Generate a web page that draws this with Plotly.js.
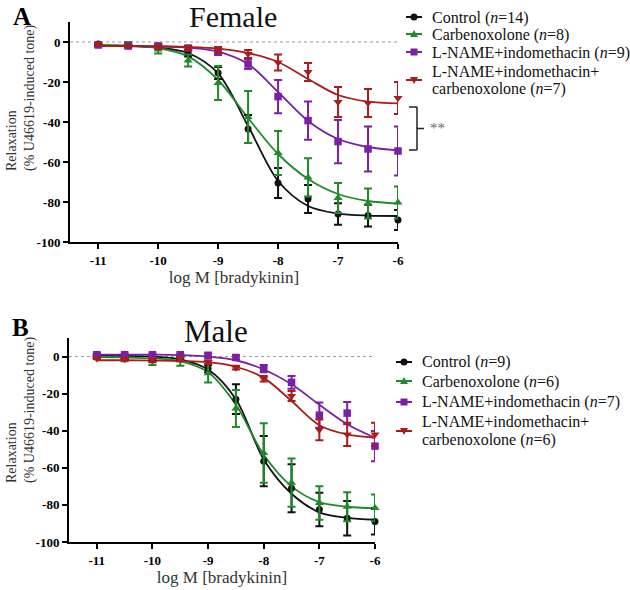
<!DOCTYPE html>
<html>
<head>
<meta charset="utf-8">
<script src="https://cdn.plot.ly/plotly-3.0.1.min.js"></script>
<style>html,body{margin:0;padding:0;background:#fff;}#chart{width:630px;height:590px;}</style>
</head>
<body>
<div id="chart"></div>
<script>
// ---- data (log M bradykinin doses) ----
const doses = [-11, -10.5, -10, -9.5, -9, -8.5, -8, -7.5, -7, -6.5, -6];
const xTicks = [-11, -10, -9, -8, -7, -6];
const yTicks = [0, -20, -40, -60, -80, -100];

// Female (panel A): mean, SEM, fitted curve read at each dose
const femControl      = [-1, -1.5, -2, -5.8, -15.5, -43.5, -70.5, -78.5, -86, -86.8, -89];
const femControlSem   = [0.5, 0.5, 1, 1.5, 3, 7, 7.5, 7, 5.4, 5.4, 5];
const femControlFit   = [-2, -2, -2.8, -5.5, -15.7, -42, -69.5, -82, -85.8, -86.8, -87];
const femCarb         = [-1.5, -1.5, -3.8, -9.2, -20.5, -37.5, -55.5, -67.7, -78, -80.7, -80.2];
const femCarbSem      = [1, 1.5, 2, 3, 8.5, 13, 11, 9.6, 7.5, 7.5, 8];
const femCarbFit      = [-1.5, -1.8, -3, -7.2, -19, -38, -56, -68.5, -76, -79.5, -80.8];
const femLni          = [-1.5, -2, -2, -3, -5, -11, -27.3, -39.3, -49.8, -53.5, -54.5];
const femLniSem       = [0.5, 0.5, 1, 1, 1.5, 2.5, 8.3, 9.6, 10.8, 11.2, 12.2];
const femLniFit       = [-2, -2, -2.2, -2.8, -4.8, -11, -25, -39.5, -48.5, -52.5, -54.2];
const femLniCarb      = [-1, -2, -2.5, -3, -4, -6, -10.3, -15, -30, -30.5, -28];
const femLniCarbSem   = [0.5, 0.5, 1, 1, 1.5, 2, 4, 4.5, 7.5, 7, 8];
const femLniCarbFit   = [-2, -2, -2.2, -2.5, -3.3, -5.5, -10, -18.5, -26.5, -29.8, -30.7];

// Male (panel B)
const maleControl     = [1, -1, -1, -1, -6.5, -23, -56.4, -71, -82.5, -87.2, -89];
const maleControlSem  = [0.5, 0.5, 1, 1, 2, 8, 13.5, 12.9, 9, 9.3, 7];
const maleControlFit  = [0.5, 0.4, 0, -1.5, -7, -23, -55.5, -74, -84, -87, -88];
const maleCarb        = [0, -1.5, -2.5, -2, -9, -28, -52, -68, -79, -81, -81.6];
const maleCarbSem     = [1, 1, 2, 3, 5, 10, 16, 13, 9, 7.8, 7.2];
const maleCarbFit     = [-0.3, -0.5, -1, -2.5, -8.5, -26, -53, -70, -78.5, -81, -81.8];
const maleLni         = [1, 1, 1, 1, 0.7, -0.5, -6.5, -13.9, -31.6, -30.5, -48.3];
const maleLniSem      = [0.5, 0.5, 0.5, 0.5, 1, 1, 2, 3.4, 6.8, 6, 8.1];
const maleLniFit      = [1, 1, 1, 0.8, 0, -2, -7, -15, -26, -36.5, -43.8];
const maleLniCarb     = [-1, -1.5, -2, -1.5, -3, -6, -12, -21.3, -39.5, -42, -42];
const maleLniCarbSem  = [0.5, 0.5, 1, 1, 1, 1, 1.5, 2.7, 5.6, 6.3, 6.3];
const maleLniCarbFit  = [-2, -2, -2.2, -2.4, -3, -5.5, -11.5, -24, -37, -42, -43.8];

const femLabels  = ['Control (<i>n</i>=14)', 'Carbenoxolone (<i>n</i>=8)', 'L-NAME+indomethacin (<i>n</i>=9)', 'L-NAME+indomethacin+', 'carbenoxolone (<i>n</i>=7)'];
const maleLabels = ['Control (<i>n</i>=9)', 'Carbenoxolone (<i>n</i>=6)', 'L-NAME+indomethacin (<i>n</i>=7)', 'L-NAME+indomethacin+', 'carbenoxolone (<i>n</i>=6)'];

// ---- styles ----
const COLORS  = ['#111111', '#1f8a2a', '#7a1fa8', '#a81c1c'];
const SYMBOLS = ['circle', 'triangle-up', 'square', 'triangle-down'];
const SIZES   = [7, 8, 7.5, 8];
const SERIF = 'Liberation Serif';
const W = 630, H = 590;
const px = v => v / W;
const py = v => 1 - v / H;

const traces = [];
function addPanel(sets, xa, ya) {
  sets.forEach((s, i) => {
    traces.push({
      x: doses, y: s.fit, xaxis: xa, yaxis: ya, type: 'scatter', mode: 'lines',
      line: {color: COLORS[i], width: 1.8, shape: 'spline', smoothing: 0.9},
      showlegend: false, hoverinfo: 'skip', cliponaxis: false
    });
  });
  sets.forEach((s, i) => {
    traces.push({
      x: doses, y: s.y, xaxis: xa, yaxis: ya, type: 'scatter', mode: 'markers',
      marker: {color: COLORS[i], symbol: SYMBOLS[i], size: SIZES[i], line: {width: 0}},
      error_y: {type: 'data', array: s.err, visible: true, color: COLORS[i], thickness: 2, width: 4},
      showlegend: false, cliponaxis: false
    });
  });
}
addPanel([
  {y: femControl, err: femControlSem, fit: femControlFit},
  {y: femCarb, err: femCarbSem, fit: femCarbFit},
  {y: femLni, err: femLniSem, fit: femLniFit},
  {y: femLniCarb, err: femLniCarbSem, fit: femLniCarbFit}
], 'x', 'y');
addPanel([
  {y: maleControl, err: maleControlSem, fit: maleControlFit},
  {y: maleCarb, err: maleCarbSem, fit: maleCarbFit},
  {y: maleLni, err: maleLniSem, fit: maleLniFit},
  {y: maleLniCarb, err: maleLniCarbSem, fit: maleLniCarbFit}
], 'x2', 'y2');

function axisX(domain, anchor, range) {
  return {
    domain: domain, anchor: anchor, range: range, tickvals: xTicks, ticktext: xTicks.map(String),
    showline: true, linecolor: '#000', linewidth: 2, ticks: 'outside', ticklen: 5, tickwidth: 2, tickcolor: '#000',
    showgrid: false, zeroline: false, mirror: false,
    tickfont: {family: SERIF, size: 13, color: '#000', weight: 'bold'},
    title: {text: 'log M [bradykinin]', font: {family: SERIF, size: 17, color: '#333'}, standoff: 1}
  };
}
function axisY(domain, anchor) {
  return {
    domain: domain, anchor: anchor, range: [-100, 10], tickvals: yTicks, ticktext: yTicks.map(String),
    showline: true, linecolor: '#000', linewidth: 2, ticks: 'outside', ticklen: 5, tickwidth: 2, tickcolor: '#000',
    showgrid: false, zeroline: false, mirror: false,
    tickfont: {family: SERIF, size: 13, color: '#000', weight: 'bold'}
  };
}

const shapes = [];
const annotations = [];

// dotted zero lines
shapes.push({type: 'line', xref: 'x', yref: 'y', x0: -11.47, x1: -6, y0: 0, y1: 0, line: {color: '#9a9a9a', width: 1, dash: 'dot'}, layer: 'below'});
shapes.push({type: 'line', xref: 'x2', yref: 'y2', x0: -11.5, x1: -6, y0: 0, y1: 0, line: {color: '#9a9a9a', width: 1, dash: 'dot'}, layer: 'below'});

// significance bracket (panel A)
const bx = 417;
shapes.push({type: 'line', xref: 'paper', yref: 'y', x0: px(bx), x1: px(bx), y0: -32.5, y1: -54, line: {color: '#222', width: 1.5}});
shapes.push({type: 'line', xref: 'paper', yref: 'y', x0: px(bx - 8), x1: px(bx), y0: -32.5, y1: -32.5, line: {color: '#222', width: 1.5}});
shapes.push({type: 'line', xref: 'paper', yref: 'y', x0: px(bx - 8), x1: px(bx), y0: -54, y1: -54, line: {color: '#222', width: 1.5}});
shapes.push({type: 'line', xref: 'paper', yref: 'y', x0: px(bx), x1: px(bx + 7), y0: -43.25, y1: -43.25, line: {color: '#222', width: 1.5}});
annotations.push({xref: 'paper', yref: 'y', x: px(437), y: -43.25, text: '**', showarrow: false, font: {family: SERIF, size: 15, color: '#666'}, xanchor: 'center', yanchor: 'middle'});

// manual legends
function legendIcon(xl, xr, xm, yc, i) {
  const c = COLORS[i];
  shapes.push({type: 'line', xref: 'paper', yref: 'paper', x0: px(xl), x1: px(xr), y0: py(yc), y1: py(yc), line: {color: c, width: 2}});
  const r = 3.5;
  if (SYMBOLS[i] === 'circle') {
    shapes.push({type: 'circle', xref: 'paper', yref: 'paper', x0: px(xm - r), x1: px(xm + r), y0: py(yc + r), y1: py(yc - r), fillcolor: c, line: {width: 0}});
  } else if (SYMBOLS[i] === 'square') {
    shapes.push({type: 'rect', xref: 'paper', yref: 'paper', x0: px(xm - r), x1: px(xm + r), y0: py(yc + r), y1: py(yc - r), fillcolor: c, line: {width: 0}});
  } else if (SYMBOLS[i] === 'triangle-up') {
    shapes.push({type: 'path', xref: 'paper', yref: 'paper', path: `M ${px(xm - 4)},${py(yc + 3)} L ${px(xm + 4)},${py(yc + 3)} L ${px(xm)},${py(yc - 4)} Z`, fillcolor: c, line: {width: 0}});
  } else {
    shapes.push({type: 'path', xref: 'paper', yref: 'paper', path: `M ${px(xm - 4)},${py(yc - 3)} L ${px(xm + 4)},${py(yc - 3)} L ${px(xm)},${py(yc + 4)} Z`, fillcolor: c, line: {width: 0}});
  }
}
function legendBlock(labels, textX, textYs, iconL, iconR, iconM, iconYs) {
  iconYs.forEach((yc, i) => legendIcon(iconL, iconR, iconM, yc, i));
  labels.forEach((t, k) => annotations.push({
    xref: 'paper', yref: 'paper', x: px(textX), y: py(textYs[k]), text: t, showarrow: false,
    xanchor: 'left', yanchor: 'middle', font: {family: SERIF, size: 16, color: '#111'}, borderpad: 0
  }));
}
legendBlock(femLabels, 431, [18, 35, 53, 72, 89], 406, 422, 414, [17, 34, 52, 80]);
legendBlock(maleLabels, 421, [362, 382, 402, 421, 440], 396, 412, 404, [362, 381, 402, 431]);

// panel titles and letters
annotations.push({xref: 'paper', yref: 'paper', x: px(233), y: py(17), text: 'Female', showarrow: false, font: {family: SERIF, size: 30, color: '#111'}, xanchor: 'center', yanchor: 'middle'});
annotations.push({xref: 'paper', yref: 'paper', x: px(216), y: py(331), text: 'Male', showarrow: false, font: {family: SERIF, size: 31, color: '#111'}, xanchor: 'center', yanchor: 'middle'});
annotations.push({xref: 'paper', yref: 'paper', x: px(22), y: py(16), text: '<b>A</b>', showarrow: false, font: {family: SERIF, size: 25, color: '#000'}, xanchor: 'center', yanchor: 'middle'});
annotations.push({xref: 'paper', yref: 'paper', x: px(20), y: py(327), text: '<b>B</b>', showarrow: false, font: {family: SERIF, size: 25, color: '#000'}, xanchor: 'center', yanchor: 'middle'});

// y-axis titles
const yTitle = 'Relaxation<br>(% U46619-induced tone)';
annotations.push({xref: 'paper', yref: 'paper', x: px(21), y: py(98), text: yTitle, textangle: -90, align: 'left', showarrow: false, font: {family: SERIF, size: 14, color: '#333'}, xanchor: 'center', yanchor: 'middle'});
annotations.push({xref: 'paper', yref: 'paper', x: px(21), y: py(410), text: yTitle, textangle: -90, align: 'left', showarrow: false, font: {family: SERIF, size: 14, color: '#333'}, xanchor: 'center', yanchor: 'middle'});

const layout = {
  width: W, height: H,
  margin: {l: 0, r: 0, t: 0, b: 0},
  paper_bgcolor: '#fff', plot_bgcolor: '#fff',
  showlegend: false,
  font: {family: SERIF, color: '#000'},
  xaxis:  axisX([px(70), px(398)], 'y', [-11.47, -6]),
  yaxis:  axisY([py(242), py(22)], 'x'),
  xaxis2: axisX([px(69), px(375)], 'y2', [-11.5, -6]),
  yaxis2: axisY([py(542), py(338)], 'x2'),
  shapes: shapes,
  annotations: annotations
};

Plotly.newPlot('chart', traces, layout, {displayModeBar: false, staticPlot: true});
</script>
</body>
</html>
